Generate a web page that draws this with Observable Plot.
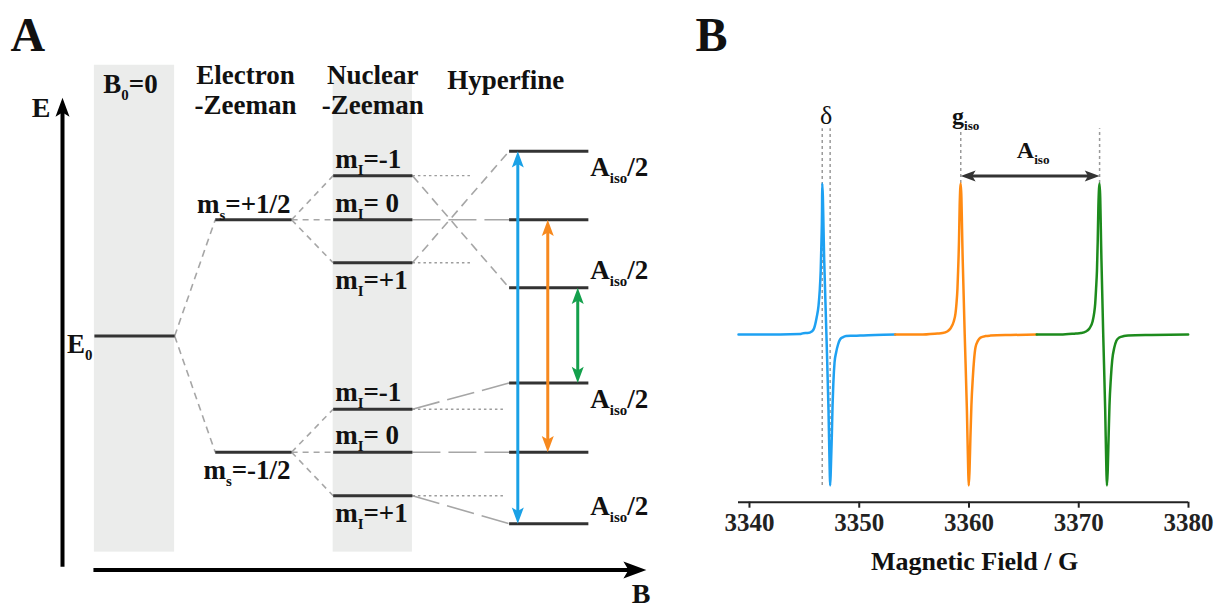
<!DOCTYPE html>
<html>
<head>
<meta charset="utf-8">
<script src="https://cdn.jsdelivr.net/npm/d3@7"></script>
<script src="https://cdn.jsdelivr.net/npm/@observablehq/plot@0.6"></script>
<style>
  html, body { margin: 0; padding: 0; background: #fff; }
  #figure { display: flex; width: 1217px; height: 608px; overflow: hidden; background: #fff; }
  #figure svg { display: block; flex: none; }
</style>
</head>
<body>
<div id="figure"></div>
<script>
// ---------- Panel A: energy levels of an S = 1/2, I = 1 spin system ----------
// Schematic field positions where the levels of each stage begin and end
const stageNames = ["B_{0}=0", "Electron\n-Zeeman", "Nuclear\n-Zeeman", "Hyperfine"];
const stageStart = [0.33, 1.58, 2.80, 4.62];
const stageEnd = [1.16, 2.37, 3.62, 5.44];

// Energies in units of half the electron Zeeman splitting
const zeroFieldEnergy = 0;
const electronSpin = ["+1/2", "-1/2"];
const electronEnergy = [1.0, -1.0];

const nuclearParent = ["+1/2", "+1/2", "+1/2", "-1/2", "-1/2", "-1/2"];
const nuclearSpin = ["-1", "0", "+1", "-1", "0", "+1"];
const nuclearZeemanEnergy = [1.38, 1.0, 0.63, -0.63, -1.0, -1.375];
const hyperfineEnergy = [0.415, 1.0, 1.59, -0.405, -1.0, -1.615];

// Allowed transitions (Δm_s = ±1, Δm_I = 0), one per nuclear spin state
const transitionSpin = ["+1", "0", "-1"];
const transitionField = [4.71, 5.02, 5.33];
const transitionColor = ["#1aa1e6", "#f7891e", "#14a04c"];

// Axes and shaded columns of the schematic
const energyAxis = [-1.985, 2.05];
const fieldAxis = [0.32, 6.04];
const fieldAxisEnergy = -2.013;
const shadedStages = [0, 2];
const shadedTop = [2.33, 2.2];
const shadedBottom = -1.86;
const referenceEnd = {"+1/2": 4.24, "-1/2": 4.56};

// ---------- Panel B: three-line EPR spectrum ----------
const fieldDomain = [3339, 3380];
const fieldTicks = [3340, 3350, 3360, 3370, 3380];
const signalDomain = [-1.11, 1.0];
const spectrumColor = ["#1ea1f2", "#ff8a12", "#1d8b1d"];
// [field / G, derivative signal]
const lowFieldLine = [
  [3339.0, 0], [3342.8, 0], [3344.6, 0.003], [3344.9, 0.009], [3345.3, 0.010],
  [3345.67, 0.02], [3345.88, 0.04], [3346.12, 0.113], [3346.29, 0.19], [3346.40, 0.29],
  [3346.49, 0.424], [3346.56, 0.62], [3346.61, 0.82], [3346.63, 1.0], [3346.81, 0.49],
  [3347.01, 0], [3347.20, -0.5], [3347.31, -0.9], [3347.35, -1.0], [3347.41, -0.9],
  [3347.50, -0.68], [3347.57, -0.47], [3347.64, -0.325], [3347.75, -0.185], [3347.89, -0.12],
  [3348.07, -0.066], [3348.25, -0.033], [3348.53, -0.017], [3348.80, -0.01], [3349.35, -0.008],
  [3350.08, -0.007], [3351.45, -0.003], [3353.28, 0]
];
const centerLine = [
  [3353.28, 0], [3355.56, 0], [3357.12, 0.007], [3357.58, 0.01], [3358.01, 0.02],
  [3358.31, 0.04], [3358.61, 0.086], [3358.77, 0.14], [3358.86, 0.205], [3358.95, 0.305],
  [3359.01, 0.424], [3359.09, 0.62], [3359.15, 0.85], [3359.25, 1.0], [3359.43, 0.49],
  [3359.61, 0], [3359.81, -0.5], [3359.93, -0.9], [3359.98, -1.0], [3360.05, -0.9],
  [3360.13, -0.68], [3360.22, -0.47], [3360.35, -0.285], [3360.46, -0.17], [3360.59, -0.086],
  [3360.82, -0.04], [3361.05, -0.02], [3361.51, -0.01], [3361.96, -0.007], [3363.79, -0.003],
  [3366.17, 0]
];
const highFieldLine = [
  [3366.17, 0], [3368.36, 0], [3369.73, 0.007], [3370.19, 0.01], [3370.65, 0.02],
  [3370.97, 0.04], [3371.26, 0.086], [3371.40, 0.14], [3371.50, 0.205], [3371.58, 0.305],
  [3371.66, 0.424], [3371.73, 0.62], [3371.79, 0.85], [3371.90, 1.0], [3372.07, 0.49],
  [3372.23, 0], [3372.41, -0.5], [3372.52, -0.9], [3372.57, -1.0], [3372.64, -0.9],
  [3372.72, -0.68], [3372.80, -0.47], [3372.93, -0.285], [3373.05, -0.17], [3373.24, -0.086],
  [3373.44, -0.04], [3373.69, -0.02], [3374.12, -0.01], [3374.49, -0.007], [3376.59, -0.003],
  [3379.97, 0]
];
const guideTop = 1.362;      // top of the dotted guide lines
const splittingLevel = 1.05; // height of the A_iso double arrow

// ---------- shared helpers ----------
const serif = "'Liberation Serif', 'Times New Roman', serif";
const ink = "#111";

// Filled arrowhead with its tip at the origin, pointing up; r sets the size
const arrowhead = {
  draw(context, size) {
    const r = Math.sqrt(size / Math.PI);
    const len = 1.35 * r, half = 0.5 * r;
    context.moveTo(0, 0);
    context.lineTo(half, len);
    context.lineTo(0, 0.78 * len);
    context.lineTo(-half, len);
    context.closePath();
  }
};

// ---------- derived tables for panel A ----------
const electronLevels = electronSpin.map((ms, i) => ({ms, energy: electronEnergy[i]}));
const nuclearLevels = nuclearSpin.map((mI, i) => ({
  ms: nuclearParent[i],
  mI,
  energy: nuclearZeemanEnergy[i],
  hyperfine: hyperfineEnergy[i],
  parent: electronEnergy[electronSpin.indexOf(nuclearParent[i])]
}));
const levelSegments = [
  {stage: 0, energy: zeroFieldEnergy},
  ...electronLevels.map((d) => ({stage: 1, energy: d.energy})),
  ...nuclearLevels.map((d) => ({stage: 2, energy: d.energy})),
  ...nuclearLevels.map((d) => ({stage: 3, energy: d.hyperfine}))
];
const zeroSplit = electronLevels.map((d) => ({x1: stageEnd[0], y1: zeroFieldEnergy, x2: stageStart[1], y2: d.energy}));
const electronSplit = nuclearLevels.map((d) => ({x1: stageEnd[1], y1: d.parent, x2: stageStart[2], y2: d.energy}));
const hyperfineShift = nuclearLevels.map((d) => ({
  x1: stageEnd[2], y1: d.energy, x2: stageStart[3], y2: d.hyperfine,
  crossing: d.ms === "+1/2" && d.mI !== "0"
}));
const references = nuclearLevels.filter((d) => d.mI !== "0")
  .map((d) => ({x1: stageEnd[2], x2: referenceEnd[d.ms], y: d.energy}));
const transitions = transitionSpin.map((mI, i) => ({
  mI,
  x: transitionField[i],
  color: transitionColor[i],
  upper: nuclearLevels.find((d) => d.ms === "+1/2" && d.mI === mI).hyperfine,
  lower: nuclearLevels.find((d) => d.ms === "-1/2" && d.mI === mI).hyperfine
}));
const transitionHeads = transitions.flatMap((d) => [
  {x: d.x, y: d.upper, rotate: 0, color: d.color},
  {x: d.x, y: d.lower, rotate: 180, color: d.color}
]);
const centreEnergy = (ms) => nuclearLevels.find((d) => d.ms === ms && d.mI === "0").hyperfine;
const shiftedLevels = nuclearLevels.filter((d) => d.mI !== "0")
  .map((d) => ({energy: d.hyperfine, below: d.hyperfine > centreEnergy(d.ms)}));

const stageMid = (i) => (stageStart[i] + stageEnd[i]) / 2;
const textA = {fontSize: 27, fontWeight: "bold", fill: ink};
const connector = {stroke: "#a6a6a6", strokeWidth: 1.6};

const panelA = Plot.plot({
  width: 690,
  height: 608,
  marginTop: 0, marginRight: 0, marginBottom: 0, marginLeft: 0,
  x: {domain: [0, 6], range: [62, 642], axis: null},
  y: {domain: [-1, 1], range: [451.7, 219.3], axis: null},
  color: {type: "identity"},
  style: {fontFamily: serif, color: ink, background: "white", overflow: "visible"},
  marks: [
    // shaded columns
    Plot.rect(shadedStages, {
      x1: (s) => stageStart[s], x2: (s) => stageEnd[s],
      y1: () => shadedBottom, y2: (s, i) => shadedTop[i],
      fill: "#ebeceb"
    }),
    // splitting connectors
    Plot.link(zeroSplit, {x1: "x1", y1: "y1", x2: "x2", y2: "y2", ...connector, strokeDasharray: "7,5"}),
    Plot.link(electronSplit, {x1: "x1", y1: "y1", x2: "x2", y2: "y2", ...connector, strokeDasharray: "6,5"}),
    Plot.link(hyperfineShift.filter((d) => d.crossing), {x1: "x1", y1: "y1", x2: "x2", y2: "y2", ...connector, strokeDasharray: "9,6"}),
    Plot.link(hyperfineShift.filter((d) => !d.crossing), {x1: "x1", y1: "y1", x2: "x2", y2: "y2", ...connector, strokeDasharray: "28,8"}),
    Plot.link(references, {x1: "x1", x2: "x2", y1: "y", y2: "y", stroke: "#9d9d9d", strokeWidth: 1.4, strokeDasharray: "2.5,3"}),
    // energy levels
    Plot.link(levelSegments, {
      x1: (d) => stageStart[d.stage], x2: (d) => stageEnd[d.stage],
      y1: "energy", y2: "energy", stroke: "#333", strokeWidth: 3
    }),
    // transitions
    Plot.arrow(transitions, {
      x1: "x", x2: "x", y1: "lower", y2: "upper", stroke: "color",
      strokeWidth: 3, headLength: 0, inset: 8, strokeLinecap: "butt"
    }),
    Plot.dot(transitionHeads, {x: "x", y: "y", rotate: "rotate", fill: "color", stroke: "none", symbol: arrowhead, r: 12}),
    // E and B axes
    Plot.arrow([energyAxis], {
      x1: () => 0, x2: () => 0, y1: (d) => d[0], y2: (d) => d[1],
      stroke: "#000", strokeWidth: 4, headLength: 0, insetEnd: 9, strokeLinecap: "butt"
    }),
    Plot.dot([energyAxis], {x: () => 0, y: (d) => d[1], rotate: 0, fill: "#000", stroke: "none", symbol: arrowhead, r: 14}),
    Plot.arrow([fieldAxis], {
      x1: (d) => d[0], x2: (d) => d[1], y1: () => fieldAxisEnergy, y2: () => fieldAxisEnergy,
      stroke: "#000", strokeWidth: 4, headLength: 0, insetEnd: 11, strokeLinecap: "butt"
    }),
    Plot.dot([fieldAxis], {x: (d) => d[1], y: () => fieldAxisEnergy, rotate: 90, fill: "#000", stroke: "none", symbol: arrowhead, r: 17}),
    Plot.text(["E"], {text: (d) => d, x: () => 0, y: () => energyAxis[1], dx: -12, dy: 19, textAnchor: "end", lineAnchor: "bottom", ...textA, fontSize: 28}),
    Plot.text(["B"], {text: (d) => d, x: () => fieldAxis[1], y: () => fieldAxisEnergy, dx: 4, dy: 33, textAnchor: "end", lineAnchor: "bottom", ...textA, fontSize: 28}),
    // panel letter and stage headings
    Plot.text(["A"], {text: (d) => d, frameAnchor: "top-left", dx: 10, dy: 50, textAnchor: "start", lineAnchor: "bottom", fontSize: 48, fontWeight: "bold", fill: ink}),
    Plot.text([stageNames[0]], {text: (d) => d, x: () => stageMid(0), frameAnchor: "top", dx: -4, dy: 92, lineAnchor: "bottom", ...textA}),
    Plot.text([stageNames[1]], {text: (d) => d, x: () => stageMid(1), frameAnchor: "top", dx: -8, dy: 113, lineAnchor: "bottom", lineHeight: 1.11, ...textA}),
    Plot.text([stageNames[2]], {text: (d) => d, x: () => stageMid(2), frameAnchor: "top", dx: 0, dy: 113, lineAnchor: "bottom", lineHeight: 1.11, ...textA}),
    Plot.text([stageNames[3]], {text: (d) => d, x: () => stageMid(3), frameAnchor: "top", dx: -43, dy: 88, lineAnchor: "bottom", ...textA}),
    // level labels
    Plot.text([zeroFieldEnergy], {text: () => "E_{0}", x: () => stageStart[0], y: (d) => d, dx: -2, dy: 17, textAnchor: "end", lineAnchor: "bottom", ...textA}),
    Plot.text(electronLevels.filter((d) => d.energy > 0), {text: (d) => `m_{s}=${d.ms}`, x: () => stageEnd[1], y: "energy", dx: -1, dy: -7, textAnchor: "end", lineAnchor: "bottom", ...textA}),
    Plot.text(electronLevels.filter((d) => d.energy < 0), {text: (d) => `m_{s}=${d.ms}`, x: () => stageEnd[1], y: "energy", dx: -1, dy: 27, textAnchor: "end", lineAnchor: "bottom", ...textA}),
    Plot.text(nuclearLevels.filter((d) => d.mI !== "+1"), {text: (d) => `m_{I}=${d.mI === "0" ? " 0" : d.mI}`, x: () => stageStart[2], y: "energy", dx: 2, dy: -8, textAnchor: "start", lineAnchor: "bottom", ...textA}),
    Plot.text(nuclearLevels.filter((d) => d.mI === "+1"), {text: (d) => `m_{I}=${d.mI}`, x: () => stageStart[2], y: "energy", dx: 2, dy: 26, textAnchor: "start", lineAnchor: "bottom", ...textA}),
    Plot.text(shiftedLevels.filter((d) => d.below), {text: () => "A_{iso}/2", x: () => stageEnd[3], y: "energy", dx: 2, dy: 25, textAnchor: "start", lineAnchor: "bottom", ...textA}),
    Plot.text(shiftedLevels.filter((d) => !d.below), {text: () => "A_{iso}/2", x: () => stageEnd[3], y: "energy", dx: 2, dy: -9, textAnchor: "start", lineAnchor: "bottom", ...textA})
  ]
});

// ---------- panel B ----------
const lines = [lowFieldLine, centerLine, highFieldLine];
const peaks = lines.map((line) => d3.greatest(line, (d) => d[1]));
const troughs = lines.map((line) => d3.least(line, (d) => d[1]));
const deltaGuides = [peaks[0], troughs[0]].map((d) => ({x: d[0], y1: troughs[0][1], y2: guideTop}));
const peakGuides = [peaks[1], peaks[2]].map((d) => ({x: d[0], y1: d[1], y2: guideTop}));
const splitting = {from: peaks[1][0], to: peaks[2][0]};
const textB = {fontSize: 24, fontWeight: "bold", fill: ink};

const panelB = Plot.plot({
  width: 527,
  height: 608,
  marginLeft: 48, marginRight: 29, marginTop: 183, marginBottom: 106.3,
  x: {domain: fieldDomain},
  y: {domain: signalDomain, axis: null},
  color: {type: "identity"},
  style: {fontFamily: serif, color: ink, background: "white", overflow: "visible"},
  marks: [
    Plot.ruleY([signalDomain[0]], {stroke: "#222", strokeWidth: 2}),
    Plot.axisX({
      ticks: fieldTicks, tickFormat: (d) => `${d}`, tickSize: 6, tickPadding: 5,
      fontSize: 25, fontWeight: "bold", strokeWidth: 2, color: "#222", label: null
    }),
    Plot.text(["Magnetic Field / G"], {text: (d) => d, frameAnchor: "bottom", dx: 11, dy: 68, lineAnchor: "bottom", ...textB, fontSize: 26}),
    // guides
    Plot.ruleX(deltaGuides, {x: "x", y1: "y1", y2: "y2", stroke: "#9a9a9a", strokeWidth: 1.5, strokeDasharray: "3,3"}),
    Plot.ruleX(peakGuides, {x: "x", y1: "y1", y2: "y2", stroke: "#9a9a9a", strokeWidth: 1.5, strokeDasharray: "3,3"}),
    // spectrum
    ...lines.map((line, i) => Plot.line(line, {
      x: (d) => d[0], y: (d) => d[1], stroke: spectrumColor[i], strokeWidth: 2.5, curve: "monotone-x"
    })),
    // hyperfine splitting arrow
    Plot.arrow([splitting], {
      x1: "from", x2: "to", y1: () => splittingLevel, y2: () => splittingLevel,
      stroke: "#333", strokeWidth: 3, headLength: 0, inset: 8, strokeLinecap: "butt"
    }),
    Plot.dot([{x: splitting.from, rotate: -90}, {x: splitting.to, rotate: 90}], {
      x: "x", y: () => splittingLevel, rotate: "rotate", fill: "#333", stroke: "none", symbol: arrowhead, r: 11
    }),
    // annotations
    Plot.text([d3.mean(deltaGuides, (d) => d.x)], {text: () => "δ", x: (d) => d, y: () => guideTop, dy: -5, lineAnchor: "bottom", fontSize: 26, fontWeight: "normal", fill: ink}),
    Plot.text([splitting.from], {text: () => "g_{iso}", x: (d) => d, y: () => guideTop, dx: 5, dy: -5, lineAnchor: "bottom", ...textB}),
    Plot.text([(splitting.from + splitting.to) / 2], {text: () => "A_{iso}", x: (d) => d, y: () => splittingLevel, dx: 3, dy: -18, lineAnchor: "bottom", ...textB}),
    Plot.text(["B"], {text: (d) => d, frameAnchor: "top-left", dx: -43, dy: -133, textAnchor: "start", lineAnchor: "bottom", fontSize: 48, fontWeight: "bold", fill: ink})
  ]
});

const figure = document.getElementById("figure");
figure.append(panelA, panelB);

// Turn "_{...}" runs into lowered, smaller tspans
function typesetSubscripts(root) {
  const ns = "http://www.w3.org/2000/svg";
  root.querySelectorAll("text").forEach((node) => {
    const s = node.textContent;
    if (!s.includes("_{") || node.querySelector("tspan")) return;
    const size = parseFloat(getComputedStyle(node).fontSize) || 24;
    node.textContent = "";
    let shift = 0;
    const add = (str, sub) => {
      const t = document.createElementNS(ns, "tspan");
      t.textContent = str;
      const target = sub ? size * 0.26 : 0;
      if (target !== shift) { t.setAttribute("dy", (target - shift).toFixed(2)); shift = target; }
      if (sub) t.setAttribute("font-size", (size * 0.55).toFixed(1));
      node.appendChild(t);
    };
    const re = /_\{([^}]*)\}/g;
    let last = 0, m;
    while ((m = re.exec(s))) {
      if (m.index > last) add(s.slice(last, m.index), false);
      add(m[1], true);
      last = re.lastIndex;
    }
    if (last < s.length) add(s.slice(last), false);
  });
}
typesetSubscripts(figure);
</script>
</body>
</html>
